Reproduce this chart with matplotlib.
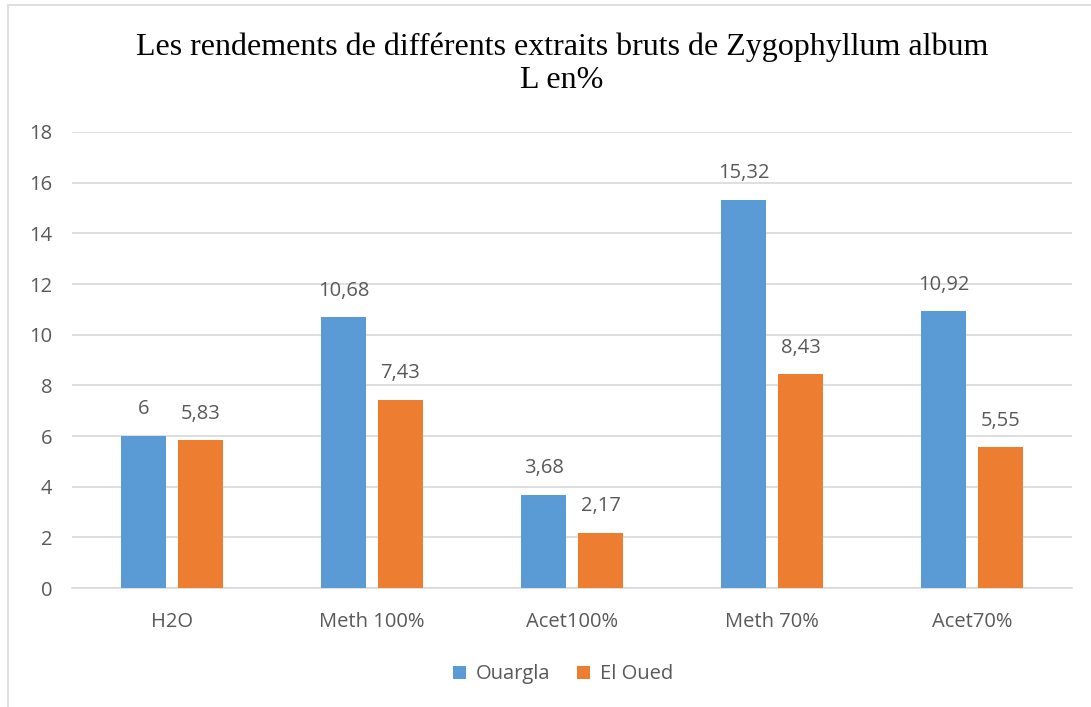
import matplotlib.pyplot as plt
import matplotlib.patches as mpatches
import numpy as np

categories = ["H2O", "Meth 100%", "Acet100%", "Meth 70%", "Acet70%"]
ouargla = [6, 10.68, 3.68, 15.32, 10.92]
el_oued = [5.83, 7.43, 2.17, 8.43, 5.55]
ouargla_labels = ["6", "10,68", "3,68", "15,32", "10,92"]
el_oued_labels = ["5,83", "7,43", "2,17", "8,43", "5,55"]

blue = "#5B9BD5"
orange = "#ED7D31"
grey = "#595959"

plt.rcParams['font.family'] = ['Open Sans', 'DejaVu Sans']

fig = plt.figure(figsize=(10.91, 7.07), dpi=100)
ax = fig.add_axes([0.066, 0.1683, 0.9166, 0.645])

# chart border (outer frame)
fig.patches.append(mpatches.Rectangle((8 / 1091, -0.01), 1.2, 1 - 5 / 707 + 0.01,
                                      transform=fig.transFigure, fill=False,
                                      edgecolor="#D9D9D9", linewidth=1.2))

x = np.arange(len(categories))
w = 0.225
off = 0.1425
b1 = ax.bar(x - off, ouargla, w, color=blue, label="Ouargla", zorder=3)
b2 = ax.bar(x + off, el_oued, w, color=orange, label="El Oued", zorder=3)

for bars, labs in [(b1, ouargla_labels), (b2, el_oued_labels)]:
    for bar, lab in zip(bars, labs):
        ax.annotate(lab, (bar.get_x() + bar.get_width() / 2, bar.get_height()),
                    xytext=(0, 12), textcoords="offset points", ha="center",
                    va="bottom", fontsize=14.5, color=grey)

ax.set_xlim(-0.5, 4.5)
ax.set_ylim(0, 18)
ax.set_yticks(range(0, 19, 2))
ax.set_xticks(x)
ax.set_xticklabels(categories)
ax.tick_params(axis="both", length=0, labelsize=14.5, labelcolor=grey)
ax.tick_params(axis="x", pad=17)
ax.tick_params(axis="y", pad=14)
ax.yaxis.grid(True, color="#D9D9D9", linewidth=1.2, zorder=0)
for s in ["top", "right", "left"]:
    ax.spines[s].set_visible(False)
ax.spines["bottom"].set_color("#D9D9D9")
ax.spines["bottom"].set_linewidth(1.2)

fig.text(0.515, 0.91, "Les rendements de différents extraits bruts de Zygophyllum album\nL en%",
         ha="center", va="center", fontsize=23, family="Liberation Serif",
         linespacing=1.18)

fig.legend(handles=[b1, b2], loc="center", bbox_to_anchor=(0.516, 0.046), ncol=2,
           frameon=False, fontsize=14.5, labelcolor=grey, handlelength=0.65,
           handleheight=0.65, columnspacing=1.3, handletextpad=0.5)

fig.savefig("out.png", dpi=100)
